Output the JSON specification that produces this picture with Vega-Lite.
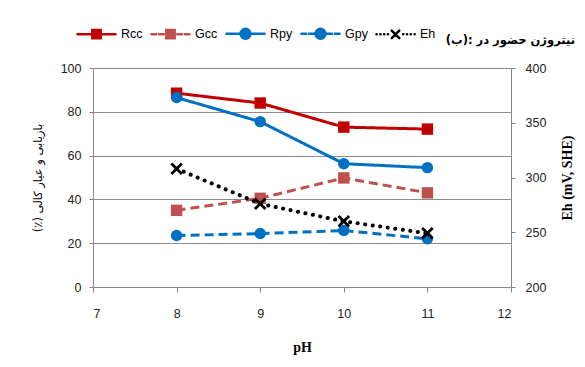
{
  "$schema": "https://vega.github.io/schema/vega-lite/v6.json",
  "width": 418,
  "height": 219,
  "autosize": {"type": "none"},
  "padding": {"left": 93, "top": 68, "right": 74, "bottom": 80},
  "title": {
    "text": "\u2066(\u0628):\u2069 \u2067\u062f\u0631\u2069 \u2067\u062d\u0636\u0648\u0631\u2069 \u2067\u0646\u06cc\u062a\u0631\u0648\u0698\u0646\u2069",
    "anchor": "end",
    "frame": "group",
    "font": "DejaVu Sans",
    "fontSize": 11.5,
    "fontWeight": "bold",
    "color": "#000000",
    "dx": 64,
    "offset": 22,
    "dy": 55
  },
  "config": {
    "view": {"stroke": null},
    "axis": {
      "labelFont": "Liberation Sans",
      "labelFontSize": 12.5,
      "labelColor": "#222222",
      "domainColor": "#868686",
      "tickColor": "#868686",
      "gridColor": "#8c8c8c",
      "titleColor": "#000000"
    }
  },
  "data": {
    "values": [
      {"pH": 8, "series": "Rcc", "value": 88.5},
      {"pH": 9, "series": "Rcc", "value": 84.0},
      {"pH": 10, "series": "Rcc", "value": 73.0},
      {"pH": 11, "series": "Rcc", "value": 72.1},
      {"pH": 8, "series": "Gcc", "value": 35.0},
      {"pH": 9, "series": "Gcc", "value": 40.5},
      {"pH": 10, "series": "Gcc", "value": 49.8},
      {"pH": 11, "series": "Gcc", "value": 43.0},
      {"pH": 8, "series": "Rpy", "value": 86.5},
      {"pH": 9, "series": "Rpy", "value": 75.5},
      {"pH": 10, "series": "Rpy", "value": 56.3},
      {"pH": 11, "series": "Rpy", "value": 54.5},
      {"pH": 8, "series": "Gpy", "value": 23.5},
      {"pH": 9, "series": "Gpy", "value": 24.4},
      {"pH": 10, "series": "Gpy", "value": 25.8},
      {"pH": 11, "series": "Gpy", "value": 22.0},
      {"pH": 8, "series": "Eh", "value": 308},
      {"pH": 9, "series": "Eh", "value": 276},
      {"pH": 10, "series": "Eh", "value": 260},
      {"pH": 11, "series": "Eh", "value": 249}
    ]
  },
  "encoding": {
    "x": {
      "field": "pH",
      "type": "quantitative",
      "scale": {"domain": [7, 12], "nice": false, "zero": false},
      "axis": {
        "values": [7, 8, 9, 10, 11, 12],
        "grid": false,
        "tickSize": 5,
        "labelPadding": 15,
        "title": "pH",
        "titleFont": "Liberation Serif",
        "titleFontSize": 14,
        "titleFontWeight": "bold",
        "titlePadding": 21
      }
    }
  },
  "layer": [
    {
      "transform": [{"filter": "datum.series !== 'Eh'"}],
      "encoding": {
        "y": {
          "field": "value",
          "type": "quantitative",
          "scale": {"domain": [0, 100], "nice": false},
          "axis": {
            "orient": "left",
            "values": [0, 20, 40, 60, 80, 100],
            "grid": true,
            "tickSize": 4,
            "labelPadding": 8,
            "title": "(٪) بازیابی و عیار کالی",
            "titleFont": "DejaVu Sans",
            "titleFontSize": 11.5,
            "titleFontWeight": "normal",
            "titlePadding": 17
          }
        }
      },
      "layer": [
        {
          "mark": {"type": "line", "strokeWidth": 3},
          "encoding": {
            "color": {
              "field": "series",
              "type": "nominal",
              "scale": {
                "domain": ["Rcc", "Gcc", "Rpy", "Gpy", "Eh"],
                "range": ["#C00000", "#C0504D", "#0070C0", "#0070C0", "#000000"]
              },
              "legend": {
                "orient": "none",
                "direction": "horizontal",
                "columns": 5,
                "legendX": -17,
                "legendY": -55,
                "title": null,
                "symbolSize": 1444,
                "symbolStrokeWidth": 2.5,
                "labelFont": "Liberation Sans",
                "labelFontSize": 12.5,
                "labelColor": "#000000",
                "labelOffset": 4,
                "columnPadding": 3,
                "encode": {
                  "symbols": {
                    "update": {
                      "shape": {"signal": "datum.value === 'Rcc' ? 'M-1,0H1M-0.22,-0.22H0.22V0.22H-0.22Z' : datum.value === 'Gcc' ? 'M-1,0H-0.75M-0.6,0H-0.35M0.35,0H0.6M0.75,0H1M-0.22,-0.22H0.22V0.22H-0.22Z' : datum.value === 'Rpy' ? 'M-1,0H1M-0.26,0A0.26,0.26 0 1,0 0.26,0A0.26,0.26 0 1,0 -0.26,0Z' : datum.value === 'Gpy' ? 'M-1,0H-0.75M-0.6,0H-0.35M0.35,0H0.6M0.75,0H1M-0.26,0A0.26,0.26 0 1,0 0.26,0A0.26,0.26 0 1,0 -0.26,0Z' : 'M-1,0H-0.99M-0.8,0H-0.79M-0.6,0H-0.59M-0.4,0H-0.39M0.4,0H0.41M0.6,0H0.61M0.8,0H0.81M1,0H1.01M-0.2,-0.2L0.2,0.2M-0.2,0.2L0.2,-0.2'"},
                      "fill": {"scale": "color", "field": "value"},
                      "stroke": {"scale": "color", "field": "value"},
                      "strokeCap": {"value": "round"},
                      "fillOpacity": {"value": 1},
                      "strokeOpacity": {"value": 1}
                    }
                  }
                }
              }
            },
            "strokeDash": {
              "field": "series",
              "type": "nominal",
              "scale": {
                "domain": ["Rcc", "Gcc", "Rpy", "Gpy"],
                "range": [[1, 0], [9, 5], [1, 0], [9, 5]]
              },
              "legend": null
            }
          }
        },
        {
          "mark": {"type": "point", "filled": true, "opacity": 1, "size": 130},
          "encoding": {
            "color": {"field": "series", "type": "nominal"},
            "shape": {
              "field": "series",
              "type": "nominal",
              "scale": {
                "domain": ["Rcc", "Gcc", "Rpy", "Gpy"],
                "range": ["square", "square", "circle", "circle"]
              },
              "legend": null
            }
          }
        }
      ]
    },
    {
      "transform": [{"filter": "datum.series === 'Eh'"}],
      "encoding": {
        "y": {
          "field": "value",
          "type": "quantitative",
          "scale": {"domain": [200, 400], "nice": false, "zero": false},
          "axis": {
            "orient": "right",
            "values": [200, 250, 300, 350, 400],
            "grid": false,
            "tickSize": 4,
            "labelPadding": 10,
            "title": "Eh (mV, SHE)",
            "titleAngle": 270,
            "titleFont": "Liberation Serif",
            "titleFontSize": 14,
            "titleFontWeight": "bold",
            "titlePadding": 29
          }
        }
      },
      "layer": [
        {
          "mark": {"type": "line", "strokeWidth": 4, "strokeDash": [0.1, 7.5], "strokeCap": "round", "color": "#000000"},
          "encoding": {}
        },
        {
          "mark": {"type": "point", "filled": false, "opacity": 1, "size": 110, "strokeWidth": 2.8, "shape": "M-1,-1L1,1M-1,1L1,-1", "color": "#000000"},
          "encoding": {}
        }
      ]
    }
  ],
  "resolve": {"scale": {"y": "independent"}}
}
